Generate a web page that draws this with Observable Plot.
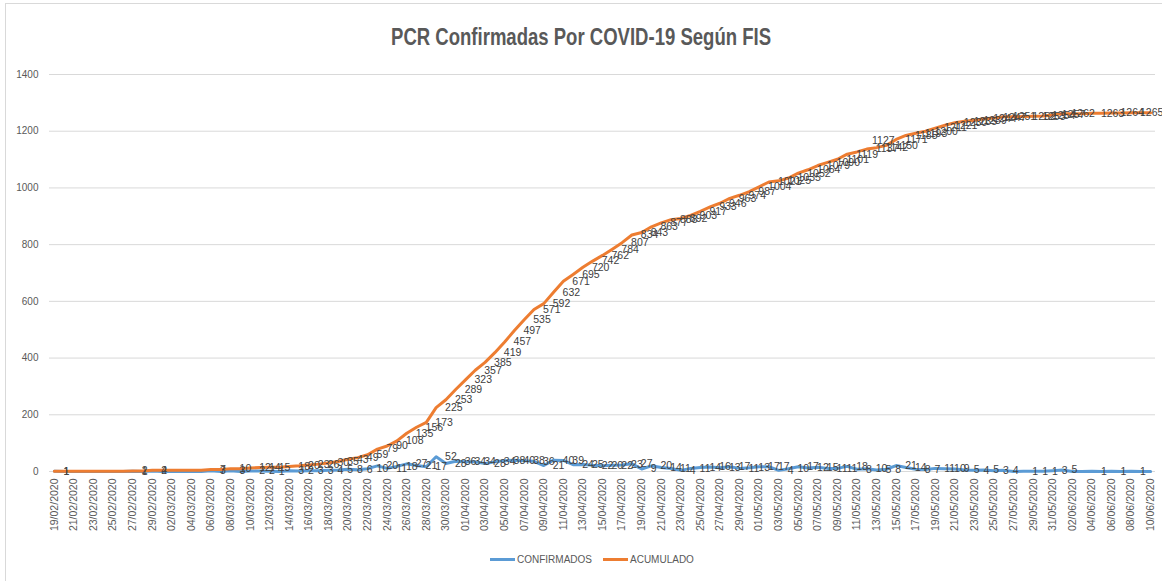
<!DOCTYPE html>
<html><head><meta charset="utf-8">
<script src="https://cdn.jsdelivr.net/npm/d3@7"></script>
<script src="https://cdn.jsdelivr.net/npm/@observablehq/plot@0.6"></script>
<style>
body{margin:0;background:#fff;}
#chart{position:relative;width:1162px;height:581px;overflow:hidden;font-family:"Liberation Sans",Arial,sans-serif;background:#fff;}
#frame{position:absolute;left:5px;top:3px;width:1170px;height:590px;border:1px solid #d9d9d9;box-sizing:border-box;}
#title{position:absolute;top:23px;left:0;width:1162px;text-align:center;}
#title span{display:inline-block;font-weight:bold;font-size:24px;color:#595959;transform-origin:50% 50%;white-space:nowrap;}
#plot{position:absolute;left:0;top:0;}
.item{position:absolute;top:552px;height:14px;display:flex;align-items:center;font-size:10px;color:#595959;}
.sw{display:inline-block;width:25px;height:3px;margin-right:2px;}
</style></head>
<body>
<div id="chart">
  <div id="frame"></div>
  <div id="plot"></div>
  <div id="title"><span>PCR Confirmadas Por COVID-19 Según FIS</span></div>
  <div id="legend"></div>
</div>
<script>
// Categories: every day from 19/02/2020 to 10/06/2020
const fmt = d3.utcFormat("%d/%m/%Y");
const dates = d3.utcDay.range(new Date(Date.UTC(2020,1,19)), new Date(Date.UTC(2020,5,11))).map(fmt);

// Daily confirmed cases (CONFIRMADOS)
const confirmados = [
  1,0,0,0,0,0,0,0,1,0,2,                         // 19/02 - 29/02
  0,0,0,0,0,3,0,3,0,2,2,1,0,3,2,3,3,4,5,8,6,10,20,11,18,27,21,17,52,28,36, // marzo
  34,34,28,34,38,40,38,36,21,40,39,24,25,22,20,22,23,27,9,20,14,11,4,11,14,16,13,17,11,13, // abril
  17,17,4,10,17,12,15,11,11,18,8,10,5,8,21,14,8,7,11,10,9,5,4,5,3,4,0,1,1,1,3, // mayo
  5,0,0,1,0,1,0,1,0,0                            // junio
];
// Cumulative cases (ACUMULADO)
const acumulado = [
  1,1,1,1,1,1,1,1,2,2,4,
  4,4,4,4,4,7,7,10,10,12,14,15,15,18,20,23,26,30,35,43,49,59,79,90,108,135,156,173,225,253,289,
  323,357,385,419,457,497,535,571,592,632,671,695,720,742,762,784,807,834,843,863,877,888,892,903,917,933,946,963,974,987,
  1004,1021,1025,1035,1052,1064,1079,1090,1101,1119,1127,1137,1142,1150,1171,1185,1193,1200,1211,1221,1230,1235,1239,1244,1247,1251,1251,1252,1253,1254,1257,
  1262,1262,1262,1263,1263,1264,1264,1265,1265,1265
];
const yTicks = [0,200,400,600,800,1000,1200,1400];
const xTicks = dates.filter((d,i)=>i%2===0);
const seriesNames = ["CONFIRMADOS","ACUMULADO"];
const seriesColors = ["#5B9BD5","#ED7D31"];
const movedLabel = 1127; // label moved up with a leader line in the original

const rows = dates.map((d,i)=>({date:d, conf:confirmados[i], acum:acumulado[i]}));
const labelled = rows.filter(r=>r.conf>0);

const chart = Plot.plot({
  width:1162, height:545,
  marginLeft:49, marginRight:7, marginTop:74, marginBottom:74,
  style:{fontFamily:'"Liberation Sans",Arial,sans-serif', background:"transparent", overflow:"visible"},
  x:{type:"point", domain:dates, padding:0.5},
  y:{domain:[0,1400]},
  marks:[
    Plot.gridY(yTicks,{stroke:"#d9d9d9", strokeOpacity:1, strokeWidth:1}),
    Plot.axisY({ticks:yTicks, tickSize:0, tickPadding:11, fontSize:10, fill:"#595959", label:null, tickFormat:d=>String(d)}),
    Plot.axisX({ticks:xTicks, tickRotate:-90, tickSize:0, tickPadding:7, fontSize:10.5, fill:"#595959", label:null}),
    Plot.lineY(rows,{x:"date", y:"conf", stroke:seriesColors[0], strokeWidth:3, strokeLinejoin:"round"}),
    Plot.lineY(rows,{x:"date", y:"acum", stroke:seriesColors[1], strokeWidth:3, strokeLinejoin:"round"}),
    Plot.text(labelled,{x:"date", y:"conf", text:d=>String(d.conf), dx:9, textAnchor:"start", fontSize:10.5, fill:"#404040"}),
    Plot.text(labelled.filter(d=>d.acum!==movedLabel),{x:"date", y:"acum", text:d=>String(d.acum), dx:9, textAnchor:"start", fontSize:10.5, fill:"#404040"}),
    Plot.text(labelled.filter(d=>d.acum===movedLabel),{x:"date", y:"acum", text:d=>String(d.acum), dx:15, dy:-11, textAnchor:"start", fontSize:10.5, fill:"#404040"})
  ]
});
document.getElementById("plot").appendChild(chart);

// condense the title to match the narrow original typeface
const t = document.querySelector("#title span");
const w = t.getBoundingClientRect().width;
t.style.transform = `scaleX(${380/w})`;

const legendX = [[490,517],[603,630]];
const leg = document.getElementById("legend");
seriesNames.forEach((n,i)=>{
  const sw = document.createElement("div"); sw.className="item";
  sw.style.left = legendX[i][0]+"px";
  sw.innerHTML = `<span class="sw" style="background:${seriesColors[i]}"></span><span>${n}</span>`;
  leg.appendChild(sw);
});
</script>
</body></html>
